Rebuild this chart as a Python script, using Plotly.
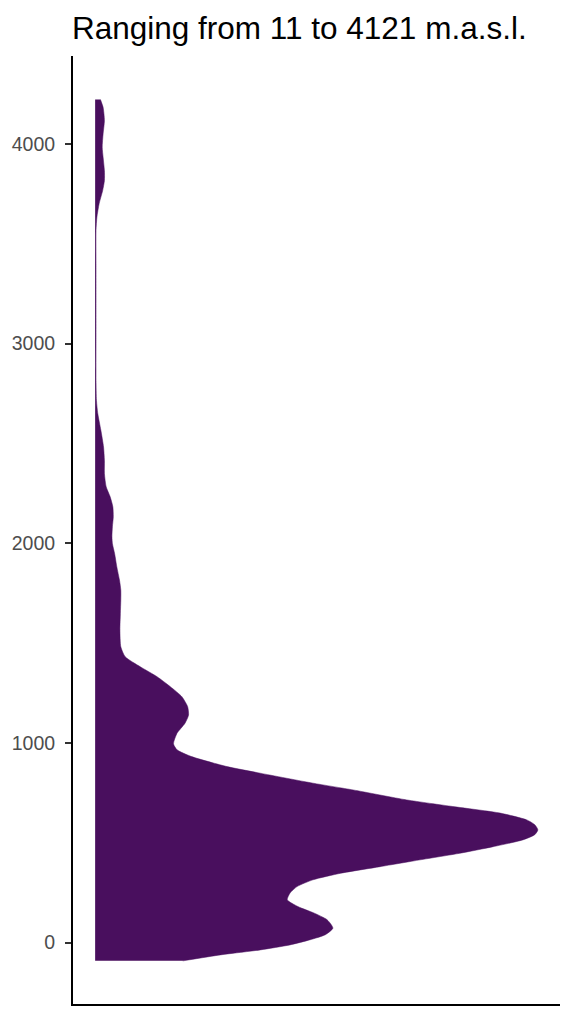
import plotly.graph_objects as go

# Elevation (m.a.s.l.) and scaled density
elevation = [-92, -62, -37, -12, 14, 39, 72, 114, 147, 180, 214, 247, 280, 314, 347,
             380, 414, 447, 480, 514, 540, 564, 590, 614, 648, 681, 714, 764, 798,
             848, 881, 931, 965, 995, 1048, 1098, 1139, 1181, 1231, 1281, 1331, 1381,
             1431, 1481, 1565, 1648, 1715, 1765, 1815, 1881, 1948, 1998, 2032, 2082,
             2132, 2182, 2232, 2282, 2348, 2415, 2482, 2565, 2649, 2715, 2815, 3000,
             3200, 3400, 3566, 3633, 3700, 3766, 3816, 3866, 3933, 3983, 4050, 4117,
             4183, 4222]
density = [0.198, 0.283, 0.373, 0.44, 0.486, 0.52, 0.537, 0.524, 0.495, 0.458, 0.434,
           0.440, 0.456, 0.492, 0.555, 0.644, 0.734, 0.824, 0.899, 0.966, 0.993, 1.0,
           0.993, 0.975, 0.915, 0.808, 0.704, 0.583, 0.492, 0.373, 0.298, 0.218, 0.185,
           0.177, 0.185, 0.203, 0.211, 0.209, 0.196, 0.170, 0.140, 0.102, 0.068, 0.058,
           0.056, 0.057, 0.058, 0.058, 0.055, 0.049, 0.044, 0.039, 0.038, 0.039, 0.041,
           0.040, 0.034, 0.025, 0.021, 0.021, 0.019, 0.013, 0.006, 0.003, 0.002, 0.002,
           0.002, 0.002, 0.002, 0.004, 0.009, 0.017, 0.021, 0.021, 0.018, 0.016, 0.018,
           0.021, 0.018, 0.012]
y_ticks = [0, 1000, 2000, 3000, 4000]
title_text = "Ranging from 11 to 4121 m.a.s.l."

fill_color = "#490F5E"

fig = go.Figure()
fig.add_trace(go.Scatter(
    x=density, y=elevation, mode="lines",
    line=dict(color=fill_color, width=0.5, shape="spline", smoothing=0.6),
    fill="tozerox", fillcolor=fill_color, hoverinfo="skip", showlegend=False,
))

fig.update_layout(
    template="none",
    width=566, height=1016,
    margin=dict(l=65, r=14, t=48, b=20, pad=0),
    paper_bgcolor="white", plot_bgcolor="white",
    font=dict(family="Liberation Sans, Arial, sans-serif"),
    xaxis=dict(range=[-0.05, 1.05], showticklabels=False, ticks="",
               showgrid=False, zeroline=False, showline=True, automargin=False,
               linecolor="black", linewidth=2),
    yaxis=dict(range=[-308, 4440], tickvals=y_ticks, ticks="outside",
               ticklen=6, tickwidth=2, tickcolor="#333333",
               tickfont=dict(size=19.5, color="#4D4D4D"),
               showgrid=False, zeroline=False, showline=True, automargin=False,
               linecolor="black", linewidth=2, ticklabelstandoff=6),
    annotations=[dict(text=title_text, x=-3 / 487, xref="paper", xanchor="left",
                      y=1 + (56 - 28) / 948, yref="paper", yanchor="middle",
                      showarrow=False, font=dict(size=31.5, color="black"))],
)

fig.write_html("out.html")
